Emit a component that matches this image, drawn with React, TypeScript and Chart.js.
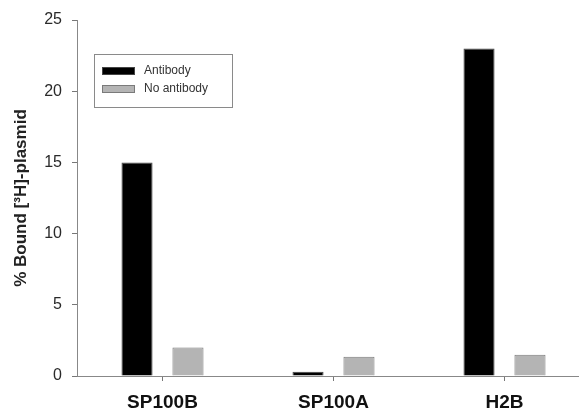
import React, { useEffect, useRef } from "react";
import { Chart, registerables } from "chart.js";

Chart.register(...registerables);

const categories = ["SP100B", "SP100A", "H2B"];
const antibody = [15, 0.3, 23];
const noAntibody = [2.0, 1.35, 1.5];
const yTicks = [0, 5, 10, 15, 20, 25];
const seriesLabels = ["Antibody", "No antibody"];

const FONT = "'Liberation Sans', Arial, sans-serif";

const legendPlugin = {
  id: "boxLegend",
  afterDraw(chart: any) {
    const ctx = chart.ctx;
    const x0 = 94.5, y0 = 54.5, w = 138, h = 53;
    ctx.save();
    ctx.fillStyle = "#ffffff";
    ctx.fillRect(x0, y0, w, h);
    ctx.strokeStyle = "#8a8a8a";
    ctx.lineWidth = 1;
    ctx.strokeRect(x0, y0, w, h);
    const ds = chart.data.datasets;
    const rows = [71, 89];
    ds.forEach((d: any, i: number) => {
      ctx.fillStyle = d.backgroundColor;
      ctx.fillRect(102, rows[i] - 4, 33, 8);
      ctx.strokeStyle = d.borderColor;
      ctx.strokeRect(102.5, rows[i] - 3.5, 32, 7);
      ctx.fillStyle = "#333333";
      ctx.font = `12px ${FONT}`;
      ctx.textBaseline = "middle";
      ctx.textAlign = "left";
      ctx.fillText(d.label, 144, rows[i]);
    });
    ctx.restore();
  },
};

export default function App() {
  const ref = useRef<HTMLCanvasElement>(null);
  useEffect(() => {
    if (!ref.current) return;
    const chart = new Chart(ref.current, {
      type: "bar",
      data: {
        labels: categories,
        datasets: [
          {
            label: seriesLabels[0],
            data: antibody,
            backgroundColor: "#000000",
            borderColor: "#444444",
            borderWidth: 1,
            categoryPercentage: 0.596,
            barPercentage: 0.61,
          },
          {
            label: seriesLabels[1],
            data: noAntibody,
            backgroundColor: "#b4b4b4",
            borderColor: "#7a7a7a",
            borderWidth: 1,
            categoryPercentage: 0.596,
            barPercentage: 0.61,
          },
        ],
      },
      options: {
        animation: false,
        responsive: false,
        maintainAspectRatio: false,
        layout: { padding: { top: 20, left: 0, right: 0, bottom: 0 } },
        plugins: { legend: { display: false }, tooltip: { enabled: false } },
        scales: {
          x: {
            offset: true,
            grid: {
              offset: false,
              drawOnChartArea: false,
              drawTicks: true,
              tickLength: 5,
              color: "#777777",
            },
            border: { display: true, color: "#888888", width: 1 },
            ticks: {
              color: "#111111",
              font: { family: FONT, size: 19, weight: "bold" },
              padding: 10,
            },
            afterFit(scale: any) {
              scale.height = 35;
            },
          },
          y: {
            min: 0,
            max: 25,
            afterBuildTicks(scale: any) {
              scale.ticks = yTicks.map((v) => ({ value: v }));
            },
            grid: {
              drawOnChartArea: false,
              drawTicks: true,
              tickLength: 5,
              color: "#777777",
            },
            border: { display: true, color: "#888888", width: 1 },
            ticks: {
              color: "#2a2a2a",
              font: { family: FONT, size: 16 },
              padding: 10,
            },
            title: {
              display: true,
              text: "% Bound [³H]-plasmid",
              color: "#222222",
              font: { family: FONT, size: 17, weight: "bold" },
              padding: { top: 11, bottom: 0 },
            },
            afterFit(scale: any) {
              scale.width = 77;
            },
          },
        },
      },
      plugins: [legendPlugin],
    });
    return () => chart.destroy();
  }, []);
  return (
    <div
      style={{
        position: "fixed",
        left: 0,
        top: 0,
        width: 579,
        height: 411,
        overflow: "hidden",
        background: "#fff",
      }}
    >
      <canvas ref={ref} width={590} height={411} style={{ display: "block" }} />
    </div>
  );
}
